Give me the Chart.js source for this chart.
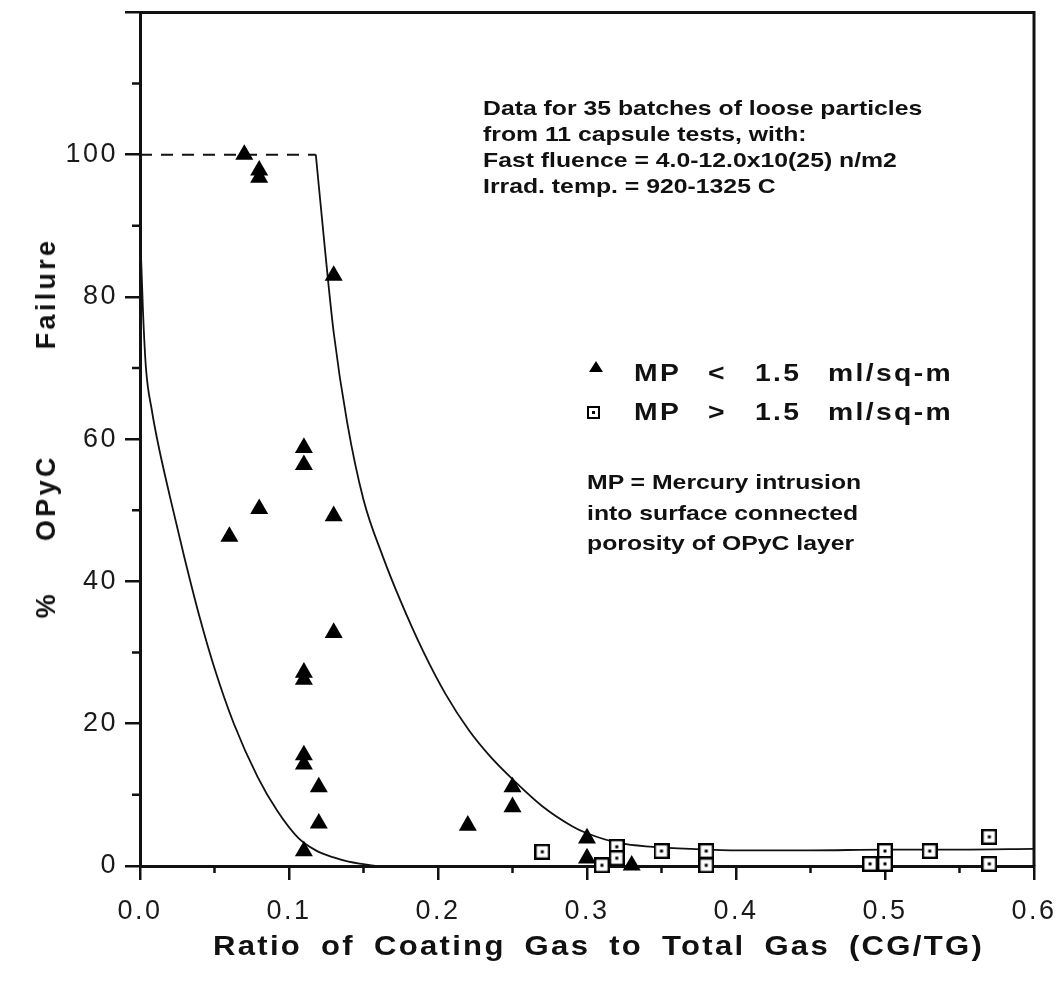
<!DOCTYPE html>
<html>
<head>
<meta charset="utf-8">
<script src="https://cdn.jsdelivr.net/npm/chart.js@4.4.1/dist/chart.umd.min.js"></script>
<style>
html,body{margin:0;padding:0;background:#fff;}
#wrap{position:relative;width:1062px;height:985px;overflow:hidden;background:#fff;}
#c{position:absolute;left:0;top:0;}
.t{position:absolute;font-family:"Liberation Sans",Arial,Helvetica,sans-serif;color:#111;white-space:pre;font-weight:bold;}
.note{font-size:21px;line-height:26px;transform:scaleX(1.18);transform-origin:0 0;}
.note2{font-size:21px;line-height:30.5px;transform:scaleX(1.18);transform-origin:0 0;}
.lg{font-size:24px;line-height:24px;letter-spacing:2px;transform:scaleX(1.18);transform-origin:0 0;}
.tri{position:absolute;width:0;height:0;border-left:7px solid transparent;border-right:7px solid transparent;border-bottom:11px solid #000;}
.sq{position:absolute;width:9px;height:9px;border:2px solid #000;background:#fff;}
.sq::after{content:"";position:absolute;left:3px;top:3px;width:3px;height:3px;background:#000;}
#xtitle{font-size:27px;line-height:30px;letter-spacing:2px;word-spacing:7px;transform:scaleX(1.15);transform-origin:0 0;}
#ytitle{font-size:27px;line-height:30px;letter-spacing:3.3px;transform:translate(-50%,-50%) rotate(-90deg);}
</style>
</head>
<body>
<div id="wrap">
<canvas id="c" width="1062" height="985"></canvas>

<div class="t note" style="left:483px;top:95px;">Data for 35 batches of loose particles
from 11 capsule tests, with:
Fast fluence = 4.0-12.0x10(25) n/m2
Irrad. temp. = 920-1325 C</div>

<div class="tri" style="left:589px;top:361px;"></div>
<div class="t lg" style="left:634px;top:361px;">MP</div>
<div class="t lg" style="left:708px;top:361px;">&lt;</div>
<div class="t lg" style="left:755px;top:361px;">1.5</div>
<div class="t lg" style="left:828px;top:361px;">ml/sq-m</div>

<div class="sq" style="left:587px;top:406px;"></div>
<div class="t lg" style="left:634px;top:400px;">MP</div>
<div class="t lg" style="left:708px;top:400px;">&gt;</div>
<div class="t lg" style="left:755px;top:400px;">1.5</div>
<div class="t lg" style="left:828px;top:400px;">ml/sq-m</div>

<div class="t note2" style="left:587px;top:467px;">MP = Mercury intrusion
into surface connected
porosity of OPyC layer</div>

<div class="t" id="xtitle" style="left:213px;top:931px;">Ratio of Coating Gas to Total Gas (CG/TG)</div>
<div class="t" id="ytitle" style="left:46px;top:428px;">%<span style="display:inline-block;width:50px"></span>OPyC<span style="display:inline-block;width:105px"></span>Failure</div>
</div>

<script>
// ---- axis ticks ----
const xTickValues = [0, 0.1, 0.2, 0.3, 0.4, 0.5, 0.6];
const xTickLabels = ['0.0', '0.1', '0.2', '0.3', '0.4', '0.5', '0.6'];
const xMinorTicks = [0.05, 0.15, 0.25, 0.35, 0.45, 0.55];
const yTickValues = [0, 20, 40, 60, 80, 100, 120];
const yTickLabels = ['0', '20', '40', '60', '80', '100', ''];
const yMinorTicks = [10, 30, 50, 70, 90, 110];

// ---- MP < 1.5 ml/sq-m (filled triangles) ----
const lowMpX = [0.07, 0.08, 0.08, 0.13, 0.11, 0.11, 0.08, 0.06, 0.13, 0.13, 0.11, 0.11, 0.11, 0.11, 0.12, 0.12, 0.11, 0.22, 0.25, 0.25, 0.30, 0.30, 0.33];
const lowMpY = [100, 97.8, 96.8, 83, 58.8, 56.4, 50.2, 46.3, 49.2, 32.8, 27.2, 26.2, 15.6, 14.3, 11.1, 6.0, 2.1, 5.7, 11.1, 8.3, 3.9, 1.1, 0.1];

// ---- MP > 1.5 ml/sq-m (open squares with dot) ----
const highMpX = [0.27, 0.31, 0.32, 0.32, 0.35, 0.38, 0.38, 0.49, 0.50, 0.50, 0.53, 0.57, 0.57];
const highMpY = [2.0, 0.1, 2.7, 1.1, 2.1, 2.1, 0.1, 0.3, 2.1, 0.3, 2.1, 4.1, 0.3];

// ---- upper bound curve ----
const upperX = [0.118, 0.124, 0.130, 0.139, 0.150, 0.163, 0.175, 0.190, 0.205, 0.221, 0.235, 0.250, 0.270, 0.290, 0.300, 0.322, 0.344, 0.370, 0.402, 0.450, 0.500, 0.550, 0.600];
const upperY = [100, 87, 75, 62.4, 51.5, 43.5, 37.2, 30.2, 24.2, 19, 15.4, 12.2, 8.4, 5.6, 4.6, 3.2, 2.7, 2.4, 2.2, 2.2, 2.3, 2.3, 2.4];

// ---- lower bound curve ----
const lowerX = [0, 0.002, 0.004, 0.008, 0.012, 0.020, 0.030, 0.040, 0.050, 0.063, 0.079, 0.092, 0.106, 0.118, 0.130, 0.140, 0.150, 0.158];
const lowerY = [90, 78, 70, 64, 59.5, 52, 43.2, 35, 27.8, 20, 12.5, 7.8, 4, 2.2, 1.2, 0.6, 0.25, 0];

// ---- 100 % plateau (dashed) ----
const plateauX = [0, 0.118];
const plateauY = [100, 100];

const zip = (xs, ys) => xs.map((x, i) => ({x: x, y: ys[i]}));

// square-with-dot marker
const sq = document.createElement('canvas');
sq.width = 16; sq.height = 16;
(function () {
  const g = sq.getContext('2d');
  g.fillStyle = '#fff'; g.fillRect(1, 1, 14, 14);
  g.strokeStyle = '#000'; g.lineWidth = 2.4; g.strokeRect(1.2, 1.2, 13.6, 13.6);
  g.fillStyle = '#000'; g.fillRect(6.5, 6.5, 3, 3);
})();

const INK = '#111';

const framePlugin = {
  id: 'frame',
  beforeDraw(chart) { chart.ctx.letterSpacing = '2.5px'; },
  afterDraw(chart) {
    const {ctx, chartArea: a, scales} = chart;
    ctx.save();
    ctx.letterSpacing = '0px';
    ctx.strokeStyle = INK;
    ctx.lineWidth = 3;
    ctx.beginPath();
    ctx.moveTo(a.left, a.top);
    ctx.lineTo(a.right, a.top);
    ctx.lineTo(a.right, a.bottom);
    ctx.stroke();
    ctx.lineWidth = 2.5;
    ctx.beginPath();
    yMinorTicks.forEach(v => { const p = scales.y.getPixelForValue(v); ctx.moveTo(a.left - 8, p); ctx.lineTo(a.left, p); });
    xMinorTicks.forEach(v => { const p = scales.x.getPixelForValue(v); ctx.moveTo(p, a.bottom); ctx.lineTo(p, a.bottom + 7); });
    ctx.stroke();
    ctx.restore();
    ctx.letterSpacing = '0px';
  }
};

const xTickFont = {family: '"Liberation Sans", Arial, sans-serif', size: 27, weight: 'normal', lineHeight: 1.65};
const yTickFont = {family: '"Liberation Sans", Arial, sans-serif', size: 27, weight: 'normal', lineHeight: 0.4};

new Chart(document.getElementById('c'), {
  type: 'scatter',
  data: {
    datasets: [
      {label: 'MP < 1.5 ml/sq-m', data: zip(lowMpX, lowMpY), pointStyle: 'triangle', pointRadius: 10.4, backgroundColor: '#000', borderWidth: 0, clip: false, order: 0},
      {label: 'MP > 1.5 ml/sq-m', data: zip(highMpX, highMpY), pointStyle: sq, pointRadius: 8, clip: false, order: 0},
      {label: 'upper', data: zip(upperX, upperY), showLine: true, borderColor: INK, borderWidth: 1.8, pointRadius: 0, cubicInterpolationMode: 'monotone', order: 1},
      {label: 'lower', data: zip(lowerX, lowerY), showLine: true, borderColor: INK, borderWidth: 1.8, pointRadius: 0, cubicInterpolationMode: 'monotone', order: 1},
      {label: 'plateau', data: zip(plateauX, plateauY), showLine: true, borderColor: INK, borderWidth: 2, borderDash: [12, 9], pointRadius: 0, order: 1}
    ]
  },
  options: {
    responsive: false,
    animation: false,
    events: [],
    layout: {padding: {top: 5, right: 28, left: 0, bottom: 0}},
    plugins: {legend: {display: false}, tooltip: {enabled: false}},
    scales: {
      x: {
        type: 'linear', min: 0, max: 0.6,
        afterBuildTicks: s => { s.ticks = xTickValues.map(v => ({value: v})); },
        afterFit: s => { s.height = 119; },
        ticks: {callback: (v, i) => xTickLabels[i], font: xTickFont, color: '#1a1a1a', padding: 9, maxRotation: 0, autoSkip: false},
        grid: {drawOnChartArea: false, drawTicks: true, tickLength: 14, color: INK, lineWidth: 2.5},
        border: {display: true, color: INK, width: 3}
      },
      y: {
        type: 'linear', min: 0, max: 120,
        afterBuildTicks: s => { s.ticks = yTickValues.map(v => ({value: v})); },
        afterFit: s => { s.width = 140; },
        ticks: {callback: (v, i) => yTickLabels[i], font: yTickFont, color: '#1a1a1a', padding: 7, autoSkip: false},
        grid: {drawOnChartArea: false, drawTicks: true, tickLength: 15, color: INK, lineWidth: 2.5},
        border: {display: true, color: INK, width: 3}
      }
    }
  },
  plugins: [framePlugin]
});
</script>
</body>
</html>
